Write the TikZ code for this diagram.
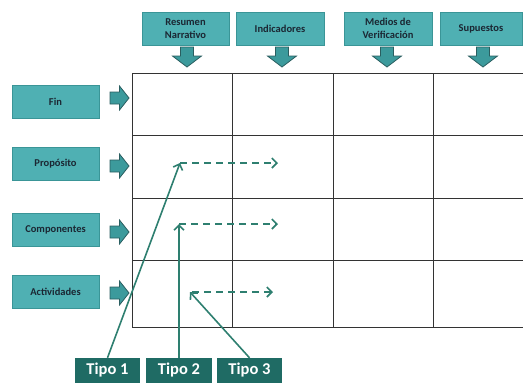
\documentclass[tikz,border=0pt]{standalone}
\usepackage{fontspec}
\setmainfont{Carlito}
\usetikzlibrary{arrows.meta}
\definecolor{boxfill}{HTML}{4FB0B3}
\definecolor{boxedge}{HTML}{3A9597}
\definecolor{boxtext}{HTML}{1B2733}
\definecolor{arrfill}{HTML}{3C9A9C}
\definecolor{arredge}{HTML}{2A5E60}
\definecolor{tipofill}{HTML}{1F6B64}
\definecolor{linkcol}{HTML}{2E7F70}
\definecolor{gridcol}{HTML}{333333}
\tikzset{
  hbox/.style={draw=boxedge, fill=boxfill, line width=0.6pt, minimum height=33pt, inner sep=1pt,
    align=center, font=\fontsize{10.5}{13}\selectfont\bfseries, text=boxtext},
  tipobox/.style={fill=tipofill, minimum width=65pt, minimum height=25pt, inner sep=1pt,
    font=\fontsize{16.5}{18}\selectfont\bfseries, text=white},
  gridline/.style={draw=gridcol, line width=0.7pt},
  solidlink/.style={draw=linkcol, line width=1.6pt, -{Straight Barb[length=5pt,width=10pt,line width=1.6pt]}},
  dashlink/.style={draw=linkcol, line width=1.6pt, dash pattern=on 7pt off 5pt, -{Straight Barb[length=5pt,width=10pt,line width=1.6pt]}},
  pics/downarr/.style={code={
    \fill[arrfill, draw=arredge, line width=0.8pt] (-6.5,-10) -- (-6.5,-1) -- (-14.5,-1) -- (0,10) -- (14.5,-1) -- (6.5,-1) -- (6.5,-10) -- cycle;}},
  pics/rightarr/.style={code={
    \fill[arrfill, draw=arredge, line width=0.8pt] (-9.5,-6) -- (0,-6) -- (0,-12) -- (9.5,0) -- (0,12) -- (0,6) -- (-9.5,6) -- cycle;}}
}
\begin{document}
\begin{tikzpicture}[x=1pt,y=-1pt]
\useasboundingbox (0,0) rectangle (523,383);
% grid
\draw[gridline] (132,73) -- (523,73);
\draw[gridline] (132,135) -- (523,135);
\draw[gridline] (132,198) -- (523,198);
\draw[gridline] (132,260) -- (523,260);
\draw[gridline] (132,327) -- (523,327);
\draw[gridline] (132,73) -- (132,327);
\draw[gridline] (232,73) -- (232,327);
\draw[gridline] (333,73) -- (333,327);
\draw[gridline] (433,73) -- (433,327);
% header boxes
\node[hbox, minimum width=87pt] (h1) at (185.5,28.5) {Resumen\\Narrativo};
\node[hbox, minimum width=88pt] (h2) at (280,28.5) {Indicadores};
\node[hbox, minimum width=88pt] (h3) at (388,28.5) {Medios de\\Verificación};
\node[hbox, minimum width=82pt] (h4) at (481,28.5) {Supuestos};
\pic at (187,57) {downarr};
\pic at (282,57) {downarr};
\pic at (387,57) {downarr};
\pic at (483,57) {downarr};
% row boxes
\node[hbox, minimum width=87pt] (r1) at (55.5,101.5) {Fin};
\node[hbox, minimum width=87pt] (r2) at (55.5,163.5) {Propósito};
\node[hbox, minimum width=87pt] (r3) at (55.5,230) {Componentes};
\node[hbox, minimum width=87pt] (r4) at (55.5,291.5) {Actividades};
\pic at (119.5,98) {rightarr};
\pic at (119.5,166) {rightarr};
\pic at (119.5,232) {rightarr};
\pic at (119.5,293) {rightarr};
% tipo boxes
\node[tipobox] (t1) at (107.5,370.5) {Tipo 1};
\node[tipobox, minimum width=66pt] (t2) at (179,370.5) {Tipo 2};
\node[tipobox] (t3) at (249.5,370.5) {Tipo 3};
% link points
\coordinate (c1) at (180,163);
\coordinate (d1) at (278,163);
\coordinate (c2) at (179,224);
\coordinate (d2) at (278,224);
\coordinate (c3) at (190,292);
\coordinate (d3) at (273,292);
\draw[solidlink] (t1.north) -- (c1);
\draw[dashlink] (c1) -- (d1);
\draw[solidlink] (t2.north) -- (c2);
\draw[dashlink] (c2) -- (d2);
\draw[solidlink] (t3.north) -- (c3);
\draw[dashlink] ([xshift=2pt]c3) -- (d3);
\end{tikzpicture}
\end{document}
